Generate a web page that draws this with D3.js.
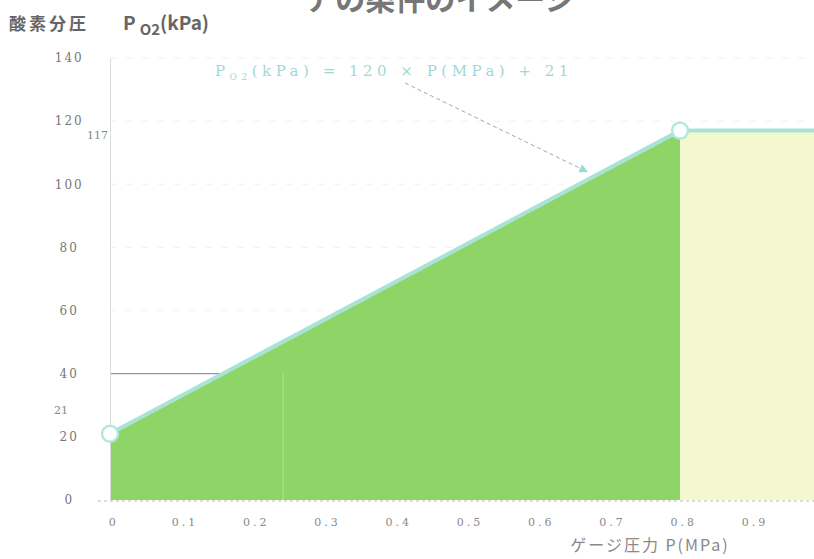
<!DOCTYPE html>
<html>
<head>
<meta charset="utf-8">
<script src="https://cdn.jsdelivr.net/npm/d3@7"></script>
<style>
  body { margin: 0; background: #fff; }
  svg { display: block; }
</style>
</head>
<body>
<svg id="chart" width="814" height="559"></svg>
<script>
// gauge pressure P (MPa) and oxygen partial pressure (kPa)
const pressure = [0, 0.8];
const po2 = [21, 117];
const plateauP = [0.8, 1.0];
const plateauPo2 = [117, 117];
const xTicks = [0, 0.1, 0.2, 0.3, 0.4, 0.5, 0.6, 0.7, 0.8, 0.9];
const yTicks = [0, 20, 40, 60, 80, 100, 120, 140];
const pointLabels = ["21", "117"];

const svg = d3.select("#chart");

const x = d3.scaleLinear().domain([0, 0.8]).range([110, 680]);
const y = d3.scaleLinear().domain([0, 140]).range([500, 58]);

// faint gridlines
svg.append("g")
  .selectAll("line")
  .data(yTicks.filter(d => d > 0))
  .enter()
  .append("line")
  .attr("x1", x(0))
  .attr("x2", 814)
  .attr("y1", d => y(d))
  .attr("y2", d => y(d))
  .attr("stroke", "#f0f0f0")
  .attr("stroke-dasharray", "6,10");

// plateau region above 0.8 MPa
const plateau = plateauP.map((p, i) => ({ p, v: plateauPo2[i] }));
svg.append("path")
  .datum(plateau)
  .attr("fill", "#f4f8cf")
  .attr("d", d3.area().x(d => x(d.p)).y0(y(0)).y1(d => y(d.v)));

// green area under the line
const rising = pressure.map((p, i) => ({ p, v: po2[i] }));
svg.append("path")
  .datum(rising)
  .attr("fill", "#8fd466")
  .attr("d", d3.area().x(d => x(d.p)).y0(y(0)).y1(d => y(d.v)));

// lighter streak in the fill
svg.append("line")
  .attr("x1", x(0.243)).attr("x2", x(0.243))
  .attr("y1", y(0)).attr("y2", y(40))
  .attr("stroke", "#c8eab0").attr("stroke-width", 2).attr("opacity", 0.35);

// reference line at 40 kPa
svg.append("line")
  .attr("x1", x(0)).attr("x2", x((40 - 21) / 120))
  .attr("y1", y(40)).attr("y2", y(40))
  .attr("stroke", "#8a96b8").attr("stroke-width", 1.2);

// lines
const line = d3.line().x(d => x(d.p)).y(d => y(d.v));
svg.append("path")
  .datum(rising.concat(plateau.slice(1)))
  .attr("fill", "none")
  .attr("stroke", "#a9e3d6")
  .attr("stroke-width", 4)
  .attr("d", line);

// y axis
const yAxis = svg.append("g")
  .attr("transform", `translate(${x(0)},0)`)
  .call(d3.axisLeft(y).tickValues(yTicks).tickSize(0).tickPadding(36));
yAxis.select(".domain").attr("stroke", "#dcdcdc");
yAxis.selectAll("text")
  .attr("fill", "#777")
  .style("font-family", "DejaVu Serif")
  .style("font-size", "12px")
  .style("letter-spacing", "2px")
  .attr("text-anchor", "middle")
  .attr("dx", "-0.4em");

// x axis
const xAxis = svg.append("g")
  .attr("transform", `translate(0,${y(0)})`)
  .call(d3.axisBottom(x).tickValues(xTicks).tickSize(0).tickPadding(18).tickFormat(d3.format("")));
xAxis.select(".domain").remove();
svg.append("line")
  .attr("x1", x(0) - 12).attr("x2", 814)
  .attr("y1", y(0) + 1).attr("y2", y(0) + 1)
  .attr("stroke", "#bbb").attr("stroke-dasharray", "3,3");
xAxis.selectAll("text")
  .attr("fill", "#888")
  .style("font-family", "DejaVu Serif")
  .style("font-size", "11px")
  .style("letter-spacing", "3px")
  .attr("dx", "0.3em");

// markers
svg.selectAll(".pt")
  .data(rising)
  .enter()
  .append("circle")
  .attr("class", "pt")
  .attr("cx", d => x(d.p))
  .attr("cy", d => y(d.v))
  .attr("r", 8)
  .attr("fill", "#fff")
  .attr("stroke", "#b3e8de")
  .attr("stroke-width", 2.5);

// value labels
svg.append("text")
  .attr("x", 54).attr("y", y(po2[0]) - 20)
  .attr("fill", "#888").style("font-family", "DejaVu Serif").style("font-size", "11px")
  .text(pointLabels[0]);
svg.append("text")
  .attr("x", 87).attr("y", y(po2[1]) + 8)
  .attr("fill", "#888").style("font-family", "DejaVu Serif").style("font-size", "11px")
  .text(pointLabels[1]);

// formula and arrow
svg.append("defs").append("marker")
  .attr("id", "arrow")
  .attr("viewBox", "0 0 10 10")
  .attr("refX", 9).attr("refY", 5)
  .attr("markerWidth", 9).attr("markerHeight", 9)
  .attr("orient", "auto")
  .append("path")
  .attr("d", "M0,0 L10,5 L0,10 Z")
  .attr("fill", "#9fdbd2");
svg.append("line")
  .attr("x1", 405).attr("y1", 83)
  .attr("x2", x(0.67)).attr("y2", y(21 + 120 * 0.67) - 8)
  .attr("stroke", "#9aa8c4").attr("stroke-width", 1)
  .attr("stroke-dasharray", "4,3")
  .attr("marker-end", "url(#arrow)");

const formula = svg.append("text")
  .attr("x", 215).attr("y", 76)
  .attr("fill", "#9fd9d6")
  .style("font-family", "DejaVu Serif")
  .style("font-size", "15px")
  .style("letter-spacing", "4.5px");
formula.append("tspan").text("P");
formula.append("tspan").attr("dy", 4).style("font-size", "9px").text("O2");
formula.append("tspan").attr("dy", -4).text("(kPa) = 120 × P(MPa) + 21");

// titles (the top title is cut off by the frame, as in the source image)
svg.append("text")
  .attr("x", 440).attr("y", 10)
  .attr("text-anchor", "middle")
  .attr("fill", "#777")
  .style("font-family", "Noto Sans CJK JP")
  .style("font-weight", "bold")
  .style("font-size", "30px")
  .text("アの条件のイメージ");

svg.append("text")
  .attr("x", 9).attr("y", 30)
  .attr("fill", "#666")
  .style("font-family", "Noto Sans CJK JP")
  .style("font-weight", "bold")
  .style("font-size", "17px")
  .style("letter-spacing", "3px")
  .text("酸素分圧");
const yTitle = svg.append("text")
  .attr("x", 123).attr("y", 30)
  .attr("fill", "#666")
  .style("font-family", "Noto Sans CJK JP")
  .style("font-weight", "bold");
yTitle.append("tspan").style("font-size", "19px").text("P");
yTitle.append("tspan").attr("dx", 4).attr("dy", 5).style("font-size", "15px").text("O2");
yTitle.append("tspan").attr("dy", -5).style("font-size", "19px").text("(kPa)");

svg.append("text")
  .attr("x", 650).attr("y", 551)
  .attr("text-anchor", "middle")
  .attr("fill", "#888")
  .style("font-family", "Noto Sans CJK JP")
  .style("font-size", "16px")
  .style("letter-spacing", "2px")
  .text("ゲージ圧力 P(MPa)");
</script>
</body>
</html>
